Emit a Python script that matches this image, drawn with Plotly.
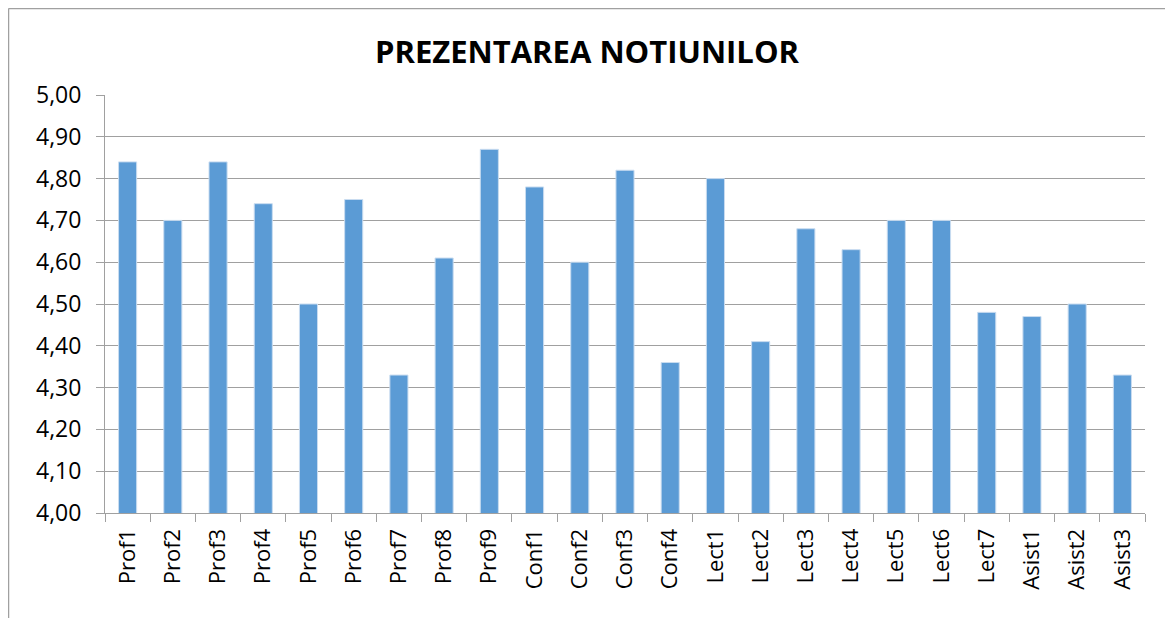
import plotly.graph_objects as go

categories = ["Prof1", "Prof2", "Prof3", "Prof4", "Prof5", "Prof6", "Prof7", "Prof8", "Prof9",
              "Conf1", "Conf2", "Conf3", "Conf4",
              "Lect1", "Lect2", "Lect3", "Lect4", "Lect5", "Lect6", "Lect7",
              "Asist1", "Asist2", "Asist3"]
values = [4.84, 4.70, 4.84, 4.74, 4.50, 4.75, 4.33, 4.61, 4.87,
          4.78, 4.60, 4.82, 4.36,
          4.80, 4.41, 4.68, 4.63, 4.70, 4.70, 4.48,
          4.47, 4.50, 4.33]
title_text = "PREZENTAREA NOTIUNILOR"

# page body has an 8px margin, so the figure starts at (8, 8) in the screenshot
W, H = 1165, 610
L, R, T, B = 97, 28, 87, 105
pw, ph = W - L - R, H - T - B

def px(x):
    return (x - L) / pw

def py(y):
    return (H - B - y) / ph

fig = go.Figure(go.Bar(
    x=categories, y=values,
    marker=dict(color="#5B9BD5", line=dict(color="#C9DCF0", width=1)),
))

font_family = "Open Sans, Liberation Sans, sans-serif"

fig.update_layout(
    width=W, height=H,
    margin=dict(l=L, r=R, t=T, b=B),
    paper_bgcolor="white", plot_bgcolor="white",
    separators=",.",
    bargap=0.6,
    showlegend=False,
    title=dict(text="<b>" + title_text + "</b>", x=579 / W, xanchor="center",
               xref="container",
               y=1 - 44.5 / H, yanchor="middle",
               font=dict(family=font_family, size=31, color="black")),
    font=dict(family=font_family, color="black"),
    xaxis=dict(
        type="category", tickangle=-90, tickson="boundaries",
        ticks="outside", ticklen=8, tickcolor="#A0A0A0",
        showline=True, linecolor="#A0A0A0", linewidth=1,
        showgrid=False, ticklabelstandoff=6,
        tickfont=dict(size=22, family=font_family, color="black"),
    ),
    yaxis=dict(
        range=[4.0, 5.0], dtick=0.1, tick0=4.0, tickformat=".2f",
        ticks="outside", ticklen=8, tickcolor="#A0A0A0",
        showline=True, linecolor="#A0A0A0", linewidth=1,
        showgrid=True, gridcolor="#A0A0A0", gridwidth=1,
        zeroline=False, ticklabelstandoff=10,
        tickfont=dict(size=23, family=font_family, color="black"),
    ),
    shapes=[
        dict(type="line", xref="paper", yref="paper", x0=px(0.5), x1=px(1158), y0=py(0.5), y1=py(0.5),
             line=dict(color="#A0A0A0", width=1.5)),
        dict(type="line", xref="paper", yref="paper", x0=px(0.5), x1=px(0.5), y0=py(0.5), y1=py(640),
             line=dict(color="#A0A0A0", width=1.5)),
        dict(type="line", xref="paper", yref="paper", x0=px(1158), x1=px(1158), y0=py(0.5), y1=py(640),
             line=dict(color="#A0A0A0", width=1.5)),
    ],
)

fig.write_html("out.html")
